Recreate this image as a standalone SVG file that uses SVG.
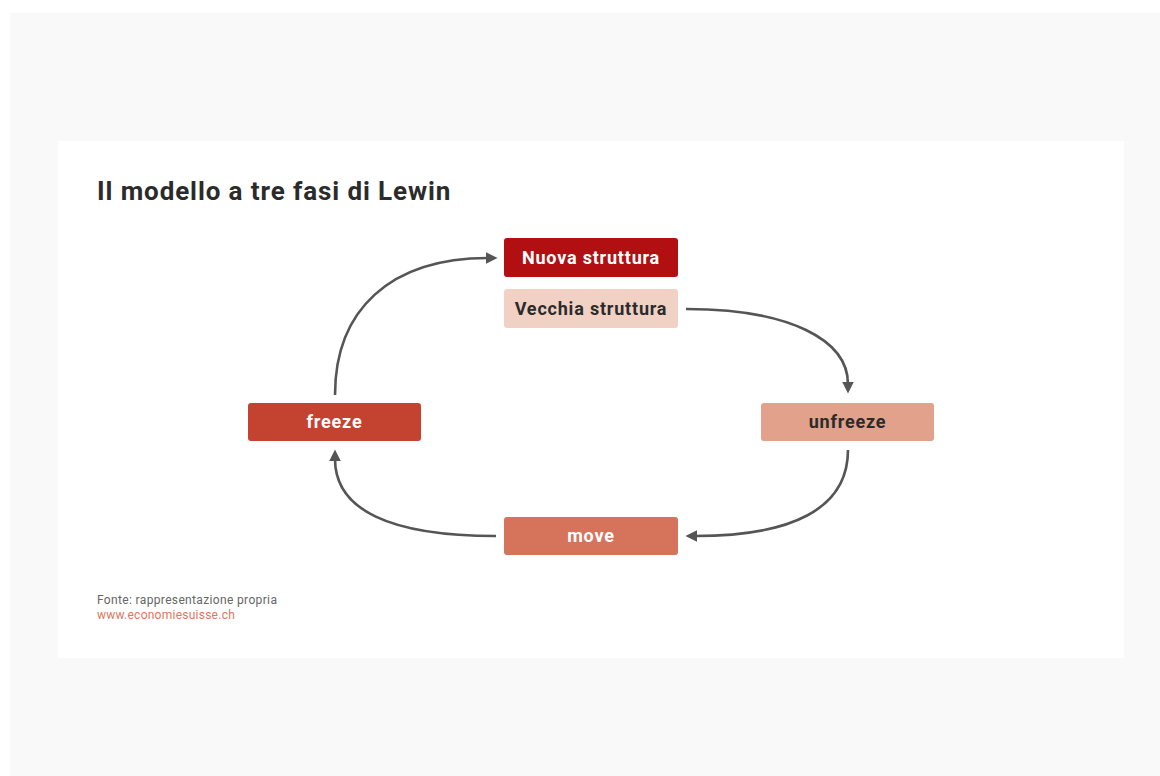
<svg xmlns="http://www.w3.org/2000/svg" width="1160" height="776" viewBox="0 0 1160 776">
<style>
.lbl{font-family:"Roboto","DejaVu Sans",sans-serif;font-weight:bold;font-size:18px;letter-spacing:0.8px;text-anchor:middle}
.light{fill:#ffffff}
.dark{fill:#2b2b2b}
.con{fill:none;stroke:#555555;stroke-width:2.6}
</style>
<defs>
<marker id="ah" viewBox="0 0 10 10" refX="2" refY="5" markerWidth="4.6" markerHeight="4.6" orient="auto" markerUnits="strokeWidth">
<path d="M0,0 L10,5 L0,10 z" fill="#555555"/>
</marker>
</defs>
<rect x="0" y="0" width="1160" height="776" fill="#ffffff"/>
<rect x="10" y="13" width="1150" height="763" fill="#f9f9f9"/>
<rect x="58" y="141" width="1066" height="517" fill="#ffffff"/>
<text x="97" y="200" font-family="Roboto,'DejaVu Sans',sans-serif" font-weight="bold" font-size="26" letter-spacing="0.9" fill="#2b2b2b">Il modello a tre fasi di Lewin</text>
<g id="connectors">
<path class="con" marker-end="url(#ah)" d="M335,395 C335,310 390,258 488,258"/>
<path class="con" marker-end="url(#ah)" d="M686,309 C790,309 848,340 848,384"/>
<path class="con" marker-end="url(#ah)" d="M848,450 C848,510 790,536 695,536"/>
<path class="con" marker-end="url(#ah)" d="M496,536 C390,536 335,510 335,459"/>
</g>
<g id="nuova">
<rect x="504" y="238" width="174" height="39" rx="3" fill="#b20f12"/>
<text class="lbl light" x="591" y="264">Nuova struttura</text>
</g>
<g id="vecchia">
<rect x="504" y="289" width="174" height="39" rx="3" fill="#f2d1c5"/>
<text class="lbl dark" x="591" y="315">Vecchia struttura</text>
</g>
<g id="freeze">
<rect x="248" y="403" width="173" height="38" rx="3" fill="#c44330"/>
<text class="lbl light" x="334.5" y="428">freeze</text>
</g>
<g id="unfreeze">
<rect x="761" y="403" width="173" height="38" rx="3" fill="#e1a18a"/>
<text class="lbl dark" x="847.5" y="428">unfreeze</text>
</g>
<g id="move">
<rect x="504" y="517" width="174" height="38" rx="3" fill="#d5735b"/>
<text class="lbl light" x="591" y="542">move</text>
</g>
<text x="97" y="604" font-family="Roboto,'DejaVu Sans',sans-serif" font-size="12" letter-spacing="0.35" fill="#666666">Fonte: rappresentazione propria</text>
<text x="97" y="619" font-family="Roboto,'DejaVu Sans',sans-serif" font-size="12" letter-spacing="0.25" fill="#e0765c">www.economiesuisse.ch</text>
</svg>
